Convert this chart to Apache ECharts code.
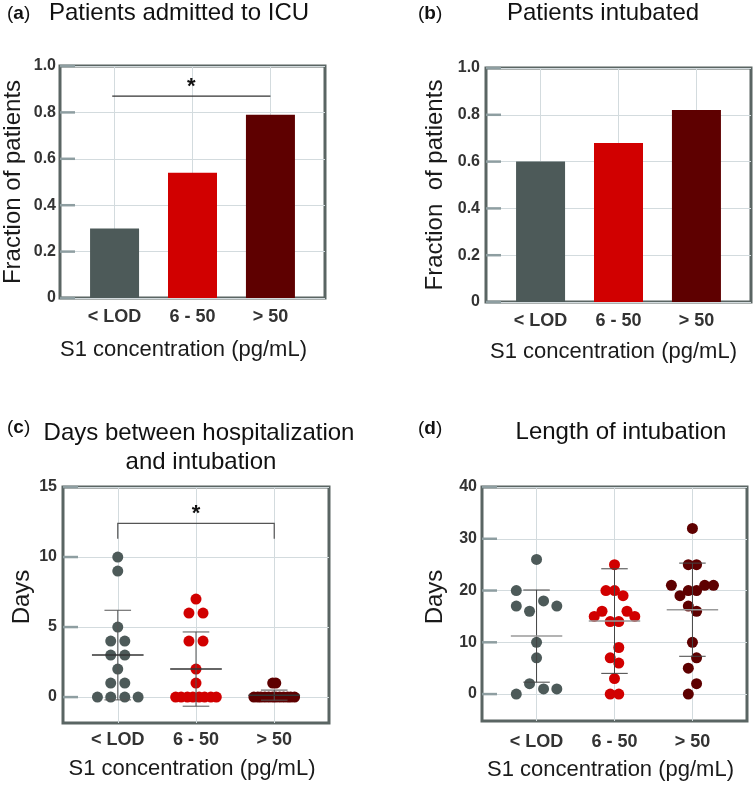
<!DOCTYPE html>
<html>
<head>
<meta charset="utf-8">
<script src="https://cdn.jsdelivr.net/npm/echarts@6/dist/echarts.min.js"></script>
<style>
  html, body { margin: 0; padding: 0; background: #fff; }
  #chart { width: 755px; height: 785px; }
</style>
</head>
<body>
<div id="chart"></div>
<script>
// groups of S1 concentration
const cats = ['< LOD', '6 - 50', '> 50']
const groupColors = ['#4d5a59', '#d10000', '#5e0000']

// (a) and (b): fraction of patients
const icuFraction = [0.30, 0.54, 0.79]
const intubatedFraction = [0.60, 0.68, 0.82]
const fractionTicks = [0, 0.2, 0.4, 0.6, 0.8, 1.0]

// (c): days between hospitalization and intubation
const daysToIntubation = [
  [10, 9, 5, 4, 4, 3, 3, 2, 1, 1, 0, 0, 0, 0],
  [7, 6, 6, 4, 4, 2, 1, 0, 0, 0, 0, 0, 0, 0, 0],
  [1, 1, 0, 0, 0, 0, 0, 0, 0, 0, 0, 0, 0, 0]
]
// swarm offsets (category units) for the dots above
const daysToIntubationSwarm = [
  [0, 0, 0, -0.09, 0.09, -0.09, 0.09, 0, -0.09, 0.09, -0.26, -0.09, 0.09, 0.26],
  [0, -0.09, 0.09, -0.09, 0.09, 0, 0, -0.26, -0.19, -0.11, -0.04, 0.04, 0.11, 0.19, 0.26],
  [-0.02, 0.02, -0.26, -0.21, -0.17, -0.12, -0.07, -0.02, 0.02, 0.07, 0.12, 0.17, 0.21, 0.26]
]
const daysToIntubationMean = [3.0, 2.0, 0.14]
const daysToIntubationSD = [3.2, 2.65, 0.36]
const daysTicks = [0, 5, 10, 15]

// (d): length of intubation
const intubationLength = [
  [26, 20, 17, 16, 18, 17, 10, 7, 2, 1, 1, 0],
  [25, 20, 20, 19, 16, 16, 15, 15, 14, 14, 9, 7, 6, 3, 0, 0],
  [32, 25, 25, 21, 21, 21, 19, 20, 20, 17, 16, 10, 7, 5, 2, 0]
]
const intubationLengthSwarm = [
  [0, -0.26, -0.26, -0.09, 0.09, 0.26, 0, 0, -0.09, 0.09, 0.26, -0.26],
  [0, -0.11, 0, 0.11, -0.16, 0.16, -0.26, 0.26, -0.055, 0.055, 0.055, -0.055, 0.055, 0, -0.055, 0.055],
  [0, -0.053, 0.053, -0.27, 0.157, 0.27, -0.16, -0.053, 0.053, -0.053, 0.053, 0, 0.053, -0.053, 0.053, -0.053]
]
const intubationLengthMean = [11.2, 14.1, 16.3]
const intubationLengthSD = [8.9, 10.1, 9.0]
const lengthTicks = [0, 10, 20, 30, 40]

const FONT = '"Liberation Sans", Arial, Helvetica, sans-serif'
const catPositions = [0, 1, 2]
const gridLineColor = '#d3dbde'

function xAxisFor(gridIndex, labelMargin, nameGap, nameShift) {
  return {
    gridIndex: gridIndex,
    type: 'value',
    min: -0.7,
    max: 2.7,
    axisLine: { show: false, onZero: false },
    axisTick: { show: false, customValues: catPositions },
    axisLabel: {
      customValues: catPositions,
      formatter: v => cats[Math.round(v)],
      fontFamily: FONT, fontWeight: 'bold', fontSize: 18, color: '#333', margin: labelMargin
    },
    splitLine: { show: true, lineStyle: { color: gridLineColor, width: 1 } },
    name: 'S1 concentration (pg/mL)',
    nameLocation: 'middle',
    nameGap: nameGap,
    nameTextStyle: { fontFamily: FONT, fontSize: 22, color: '#1a1a1a', padding: [0, nameShift * 2, 0, 0] }
  }
}

function yAxisFor(gridIndex, min, max, ticks, name, nameGap, labelMargin, fmt, nameShift) {
  return {
    gridIndex: gridIndex,
    type: 'value',
    position: 'left',
    min: min,
    max: max,
    axisLine: { show: false, onZero: false },
    axisTick: { show: false, customValues: ticks },
    axisLabel: {
      customValues: ticks,
      formatter: fmt,
      fontFamily: FONT, fontWeight: 'bold', fontSize: 16, color: '#333', margin: labelMargin
    },
    splitLine: { show: true, lineStyle: { color: gridLineColor, width: 1 } },
    name: name,
    nameLocation: 'middle',
    nameGap: nameGap,
    nameTextStyle: { fontFamily: FONT, fontSize: 24, color: '#1a1a1a', padding: [0, 0, 0, nameShift * 2] }
  }
}

// short inward ticks on the left frame, placed on the y scale
function tickSeries(axisIndex, ticks) {
  return {
    type: 'custom',
    xAxisIndex: axisIndex,
    yAxisIndex: axisIndex,
    z: 1,
    silent: true,
    clip: false,
    data: ticks.map(t => [-0.7, t]),
    renderItem: (params, api) => {
      const pt = api.coord([api.value(0), api.value(1)])
      return {
        type: 'line',
        shape: { x1: pt[0], y1: pt[1], x2: pt[0] + 15, y2: pt[1] },
        style: { stroke: '#8e9ea1', lineWidth: 2.5 }
      }
    }
  }
}

function barSeries(axisIndex, values) {
  return {
    type: 'bar',
    xAxisIndex: axisIndex,
    yAxisIndex: axisIndex,
    barWidth: 49,
    z: 2,
    data: values.map((v, i) => ({ value: [i, v], itemStyle: { color: groupColors[i] } }))
  }
}

function swarmSeries(axisIndex, groups, offsets) {
  return groups.map((vals, g) => ({
    type: 'scatter',
    xAxisIndex: axisIndex,
    yAxisIndex: axisIndex,
    symbolSize: 11,
    itemStyle: { color: groupColors[g], opacity: 1 },
    data: vals.map((v, k) => [g + offsets[g][k], v]),
    z: 3
  }))
}

// mean line plus SD whiskers
function errorSeries(axisIndex, means, sds, meanColor, sdColor) {
  return {
    type: 'custom',
    xAxisIndex: axisIndex,
    yAxisIndex: axisIndex,
    z: 5,
    silent: true,
    data: means.map((m, i) => [i, m, sds[i]]),
    renderItem: (params, api) => {
      const x = api.value(0), m = api.value(1), s = api.value(2)
      const p = (a, b) => api.coord([a, b])
      const seg = (a, b, c, d, color, w) => ({
        type: 'line',
        shape: { x1: p(a, b)[0], y1: p(a, b)[1], x2: p(c, d)[0], y2: p(c, d)[1] },
        style: { stroke: color, lineWidth: w }
      })
      return {
        type: 'group',
        children: [
          seg(x, m - s, x, m + s, sdColor, 1),
          seg(x - 0.17, m + s, x + 0.17, m + s, sdColor, 1),
          seg(x - 0.17, m - s, x + 0.17, m - s, sdColor, 1),
          seg(x - 0.33, m, x + 0.33, m, meanColor, 1.5)
        ]
      }
    }
  }
}

// significance bracket: [from, to, height, drop]
function bracketSeries(axisIndex, bracket, color) {
  return {
    type: 'custom',
    xAxisIndex: axisIndex,
    yAxisIndex: axisIndex,
    z: 5,
    silent: true,
    data: [bracket],
    renderItem: (params, api) => {
      const a = api.coord([api.value(0), api.value(2)])
      const b = api.coord([api.value(1), api.value(2)])
      const a0 = api.coord([api.value(0), api.value(2) - api.value(3)])
      const b0 = api.coord([api.value(1), api.value(2) - api.value(3)])
      const mid = api.coord([(api.value(0) + api.value(1)) / 2, api.value(2)])
      return {
        type: 'group',
        children: [
          { type: 'polyline', shape: { points: [a0, a, b, b0] }, style: { stroke: color, lineWidth: 1.2, fill: null } },
          {
            type: 'text',
            style: { text: '*', x: mid[0], y: mid[1] + 2, align: 'center', verticalAlign: 'bottom', font: 'bold 22px ' + FONT, fill: '#111' }
          }
        ]
      }
    }
  }
}

const fracFmt = v => (v === 0 ? '0' : v.toFixed(1))
const intFmt = v => String(Math.round(v))

function panelLabel(letter, x, y) {
  return {
    type: 'text',
    x: x, y: y,
    style: {
      text: '{p|(}{b|' + letter + '}{p|)}',
      verticalAlign: 'middle',
      rich: {
        p: { fontFamily: FONT, fontSize: 19, fill: '#111' },
        b: { fontFamily: FONT, fontSize: 19, fontWeight: 'bold', fill: '#111' }
      }
    }
  }
}

function titleText(text, x, y, align) {
  return {
    type: 'text',
    x: x, y: y,
    style: { text: text, align: align, verticalAlign: 'middle', font: '24px ' + FONT, fill: '#111' }
  }
}

const chart = echarts.init(document.getElementById('chart'), null, { renderer: 'canvas' })

const gridStyle = { show: true, backgroundColor: '#fff', borderColor: '#5a6563', borderWidth: 3 }

const option = {
  animation: false,
  backgroundColor: '#fff',
  grid: [
    Object.assign({ left: 59, top: 66, width: 266, height: 232 }, gridStyle),
    Object.assign({ left: 486, top: 68, width: 265, height: 234 }, gridStyle),
    Object.assign({ left: 63, top: 487, width: 266, height: 236 }, gridStyle),
    Object.assign({ left: 482, top: 487, width: 265, height: 234 }, gridStyle)
  ],
  xAxis: [
    xAxisFor(0, 10, 41, 9),
    xAxisFor(1, 10, 39, 5),
    xAxisFor(2, 8, 35, 4),
    xAxisFor(3, 12, 38, 4)
  ],
  yAxis: [
    yAxisFor(0, 0, 1, fractionTicks, 'Fraction of patients', 35, 4, fracFmt, 0),
    yAxisFor(1, 0, 1, fractionTicks, 'Fraction  of patients', 39, 6, fracFmt, 0),
    yAxisFor(2, -1.85, 15, daysTicks, 'Days', 29, 6, intFmt, 8),
    yAxisFor(3, -5.2, 40, lengthTicks, 'Days', 35, 5, intFmt, 7)
  ],
  series: [
    tickSeries(0, fractionTicks),
    tickSeries(1, fractionTicks),
    tickSeries(2, daysTicks),
    tickSeries(3, lengthTicks),
    barSeries(0, icuFraction),
    bracketSeries(0, [-0.03, 2.0, 0.87, 0], '#333'),
    barSeries(1, intubatedFraction),
    ...swarmSeries(2, daysToIntubation, daysToIntubationSwarm),
    errorSeries(2, daysToIntubationMean, daysToIntubationSD, '#333', '#555'),
    bracketSeries(2, [0, 2, 12.4, 1.1], '#555'),
    ...swarmSeries(3, intubationLength, intubationLengthSwarm),
    errorSeries(3, intubationLengthMean, intubationLengthSD, '#9a9a9a', '#444')
  ],
  graphic: [
    panelLabel('a', 7, 14),
    titleText('Patients admitted to ICU', 49, 13, 'left'),
    panelLabel('b', 418, 14),
    titleText('Patients intubated', 603, 13, 'center'),
    panelLabel('c', 7, 428),
    titleText('Days between hospitalization', 199, 433, 'center'),
    titleText('and intubation', 201, 462, 'center'),
    panelLabel('d', 418, 429),
    titleText('Length of intubation', 621, 432, 'center')
  ]
}

chart.setOption(option)
</script>
</body>
</html>
